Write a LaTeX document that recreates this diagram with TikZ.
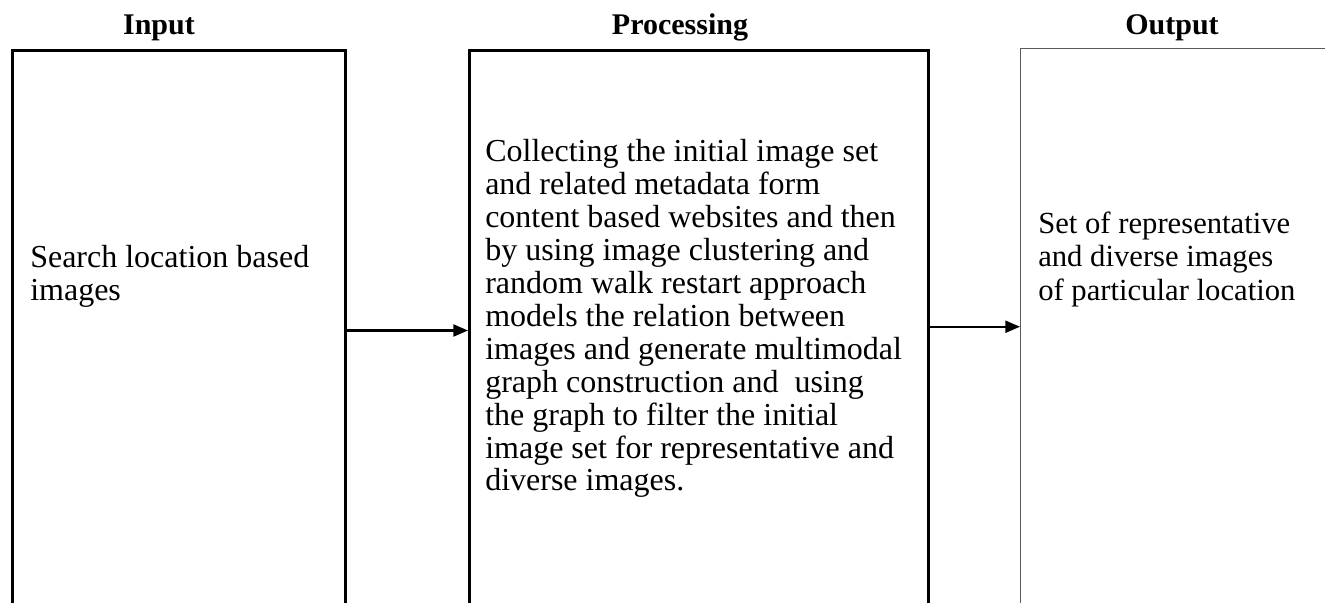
\documentclass[tikz,border=0pt]{standalone}
\usepackage{fontspec}
\setmainfont{Liberation Serif}
\usetikzlibrary{arrows.meta}
\tikzset{
  thickbox/.style={draw=black, line width=2.25pt, minimum width=#1, anchor=north west, inner sep=0pt},
  thinbox/.style={draw=black!65, line width=1.1pt, minimum width=#1, anchor=north west, inner sep=0pt},
  title/.style={font=\fontsize{22.5}{26}\selectfont\bfseries, anchor=base, inner sep=0pt},
  body/.style={font=\fontsize{24}{24.75}\selectfont, anchor=base west, inner sep=0pt},
  conn/.style={line width=1.6pt, -{Triangle[length=11pt,width=9pt]}}
}
\begin{document}
\begin{tikzpicture}[x=0.75pt,y=-0.75pt]
\useasboundingbox (0,0) rectangle (1325,603);
\clip (0,0) rectangle (1325,603);
% boxes (open below the picture edge)
\node[thickbox=333*0.75pt, minimum height=560*0.75pt] (inp) at (11,49) {};
\node[thickbox=459*0.75pt, minimum height=560*0.75pt] (proc) at (468,49) {};
\node[thinbox=400*0.75pt, minimum height=556*0.75pt] (out) at (1020,48) {};
% titles
\node[title] (tin) at (159,34) {Input};
\node[title] (tproc) at (680,34) {Processing};
\node[title] (tout) at (1172,34) {Output};
% texts
\node[body] (xin) at (30,267) {\parbox[t]{320pt}{\raggedright Search location based\\images}};
\node[body] (xproc) at (485,161) {\parbox[t]{340pt}{\raggedright
Collecting the initial image set\\
and related metadata form\\
content based websites and then\\
by using image clustering and\\
random walk restart approach\\
models the relation between\\
images and generate multimodal\\
graph construction and\ \ using\\
the graph to filter the initial\\
image set for representative and\\
diverse images.}};
\node[body, font=\fontsize{23}{25.2}\selectfont] (xout) at (1038,233) {\parbox[t]{230pt}{\raggedright
Set of representative\\
and diverse images\\
of particular location}};
% connectors
\draw[conn] (inp.east) -- (proc.west);
\draw[conn] (proc.east |- out.west) -- (out.west);
\end{tikzpicture}
\end{document}
